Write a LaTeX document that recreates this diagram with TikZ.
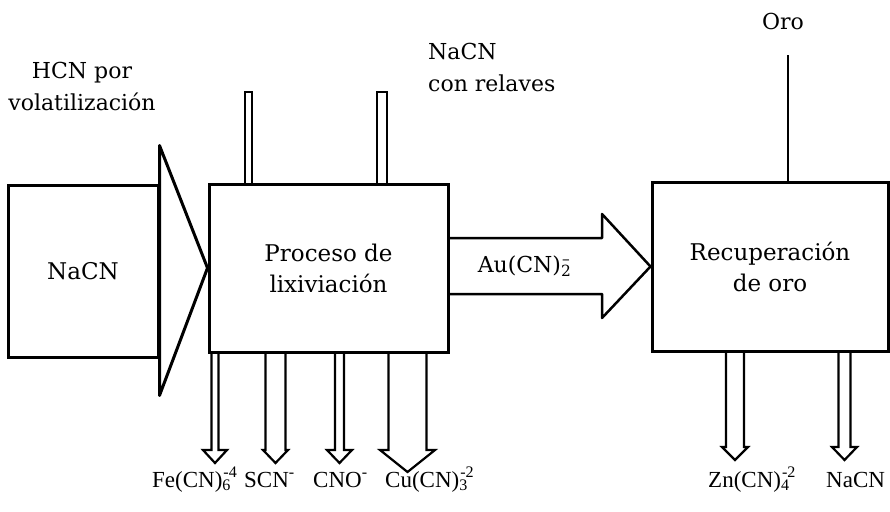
\documentclass[tikz,border=0pt]{standalone}
\usepackage{fontspec}
\setmainfont{DejaVu Serif}
\newfontfamily\especiefont{Liberation Serif}
\usetikzlibrary{positioning,calc}
% sub- and superscript stacked, as in a formula
\newcommand\subsup[2]{\makebox[0pt][l]{\textsubscript{#1}}\kern1pt\textsuperscript{#2}}

\begin{document}
\begin{tikzpicture}[x=1pt,y=-1pt,
  caja/.style={draw,line width=3pt,inner sep=0pt,align=center,
    font=\fontsize{23}{31}\selectfont},
  flecha/.style={draw,line width=3pt,line join=round},
  tubo/.style={draw,line width=2.2pt,line join=miter},
  rotulo/.style={inner sep=0pt,align=center,font=\fontsize{22}{32}\selectfont},
  especie/.style={inner sep=0pt,anchor=base west,
    font=\especiefont\fontsize{23}{28}\selectfont}
]
  \useasboundingbox (0,0) rectangle (890,511);

  % the three stages
  \node[caja,minimum width=150pt,minimum height=172pt] (nacn) at (83,271) {NaCN};
  \node[caja,minimum width=239pt,minimum height=168pt] (lix) at (328.5,268)
    {Proceso de\\lixiviación};
  \node[caja,minimum width=236pt,minimum height=169pt] (recup) at (770,266.5)
    {Recuperación\\de oro};

  % big feed arrow into the leaching
  \draw[flecha] ($(nacn.north east)+(0,-38)$) -- (lix.west)
    -- ($(nacn.south east)+(0,37)$) -- cycle;

  % gold-cyanide stream
  \draw[flecha,line width=2.5pt] ($(lix.east)+(0,-30)$) -- (602,238) -- (602,214)
    -- (recup.west) -- (602,318) -- (602,294) -- ($(lix.east)+(0,26)$);
  \node[rotulo] (au) at (524,266) {Au(CN)\subsup{2}{–}};

  % inlets on top of the leaching
  \foreach \x/\w in {248.5/3.5, 382/5}
    \draw[tubo] (\x-\w,0 |- lix.north) -- (\x-\w,92) -- (\x+\w,92)
      -- (\x+\w,0 |- lix.north);

  % outlets under the leaching
  \foreach \x/\w/\h/\d in {215/3.5/12/13, 275.5/10/12.5/13, 339.5/4.5/12.5/13,
      407.5/19/27.5/22}
    \draw[tubo] (\x-\w,0 |- lix.south) -- (\x-\w,450) -- (\x-\h,450)
      -- (\x,450+\d) -- (\x+\h,450) -- (\x+\w,450) -- (\x+\w,0 |- lix.south);

  % outlets under the recovery
  \foreach \x/\w/\h in {735/9/13, 844.5/6/12.5}
    \draw[tubo] (\x-\w,0 |- recup.south) -- (\x-\w,447) -- (\x-\h,447)
      -- (\x,460) -- (\x+\h,447) -- (\x+\w,447) -- (\x+\w,0 |- recup.south);

  % gold out
  \node[rotulo,anchor=base] (oro) at (783,30) {Oro};
  \coordinate (oroFin) at (788,55);
  \draw[line width=2.6pt] (recup.north -| oroFin) -- (oroFin);

  % texts
  \node[rotulo,anchor=north] (hcn) at (82,62) {HCN por\\volatilización};
  \node[rotulo,align=left,anchor=north west] (relaves) at (428,43)
    {NaCN\\con relaves};

  \node[especie] (fe) at (152,487) {Fe(CN)\subsup{6}{-4}};
  \node[especie] (scn) at (244,487) {SCN\textsuperscript{-}};
  \node[especie] (cno) at (313,487) {CNO\textsuperscript{-}};
  \node[especie] (cu) at (385,487) {Cu(CN)\subsup{3}{-2}};
  \node[especie] (zn) at (708,487) {Zn(CN)\subsup{4}{-2}};
  \node[especie] (na) at (826,487) {NaCN};
\end{tikzpicture}
\end{document}
